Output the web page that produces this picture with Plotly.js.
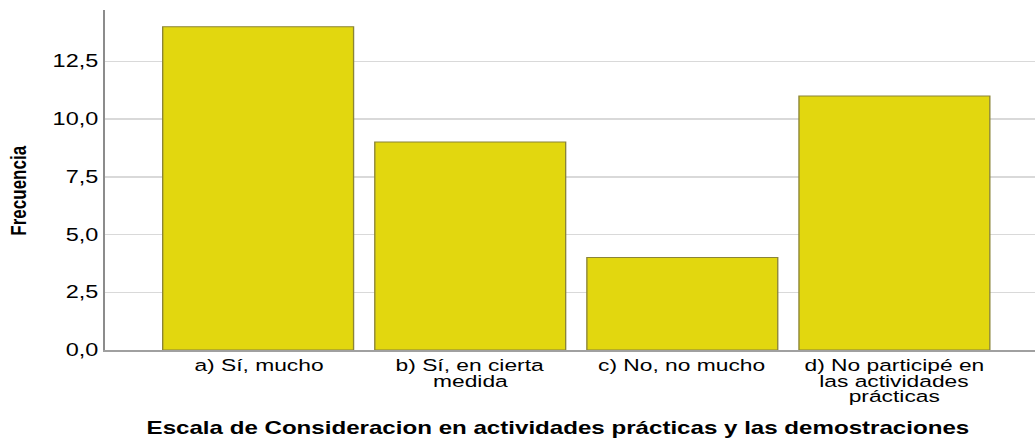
<!DOCTYPE html>
<html>
<head>
<meta charset="utf-8">
<script src="https://cdn.plot.ly/plotly-3.0.1.min.js"></script>
<style>
html,body{margin:0;padding:0;background:#fff;overflow:hidden;}
#wrap{width:772px;height:443px;transform:scaleX(1.3407);transform-origin:0 0;}
#chart{width:772px;height:443px;}
</style>
</head>
<body>
<div id="wrap"><div id="chart"></div></div>
<script>
var categoryLines = [
  ["a) Sí, mucho"],
  ["b) Sí, en cierta", "medida"],
  ["c) No, no mucho"],
  ["d) No participé en", "las actividades", "prácticas"]
];
var frequencies = [14, 9, 4, 11];
var yTicks = [0, 2.5, 5, 7.5, 10, 12.5];
var yTickLabels = ["0,0", "2,5", "5,0", "7,5", "10,0", "12,5"];
var xTitle = "Escala de Consideracion en actividades prácticas y las demostraciones";
var yTitle = "Frecuencia";

var xIdx = categoryLines.map(function (c, i) { return i; });

var trace = {
  type: "bar",
  x: xIdx,
  y: frequencies,
  width: 0.9,
  marker: {color: "#e2d70f", line: {color: "#8a8438", width: 1}},
  hoverinfo: "none"
};

var baseFont = "Liberation Sans, Arial, sans-serif";
var annotations = [];
categoryLines.forEach(function (lines, i) {
  lines.forEach(function (line, j) {
    annotations.push({
      text: line, x: i, xref: "x", y: 0, yref: "paper",
      xanchor: "center", yanchor: "top", yshift: -(4 + j * 15.5),
      showarrow: false,
      font: {size: 17, family: baseFont, color: "#000"}
    });
  });
});
annotations.push({
  text: "<b>" + xTitle + "</b>",
  xref: "paper", yref: "paper", x: 0.4868, y: -0.229,
  xanchor: "center", yanchor: "middle", showarrow: false,
  font: {size: 18, family: baseFont, color: "#000"}
});
annotations.push({
  text: "<b>" + yTitle + "</b>",
  xref: "paper", yref: "paper", x: -0.093, y: 0.47,
  xanchor: "center", yanchor: "middle", showarrow: false, textangle: -90,
  font: {size: 17, family: "Liberation Sans Narrow, Arial Narrow, sans-serif", color: "#000"}
});

var layout = {
  width: 772, height: 443,
  margin: {l: 78, r: 0, t: 10, b: 93},
  paper_bgcolor: "#ffffff", plot_bgcolor: "#ffffff",
  showlegend: false,
  font: {family: baseFont, size: 17, color: "#000"},
  xaxis: {
    range: [-0.724, 3.663],
    tickmode: "array", tickvals: xIdx,
    showticklabels: false,
    showgrid: false, zeroline: false,
    showline: true, linecolor: "#a0a0a0", linewidth: 1.5,
    ticks: "",
    fixedrange: true
  },
  yaxis: {
    range: [0, 14.72],
    tickmode: "array", tickvals: yTicks, ticktext: yTickLabels,
    showgrid: true, gridcolor: "#d9d9d9", gridwidth: 1.5,
    zeroline: false,
    showline: true, linecolor: "#8c8c8c", linewidth: 1.2,
    ticks: "", ticklabelstandoff: 0,
    tickfont: {size: 17.5, family: baseFont, color: "#000"},
    fixedrange: true
  },
  annotations: annotations
};

Plotly.newPlot("chart", [trace], layout, {displayModeBar: false, staticPlot: true});
</script>
</body>
</html>
